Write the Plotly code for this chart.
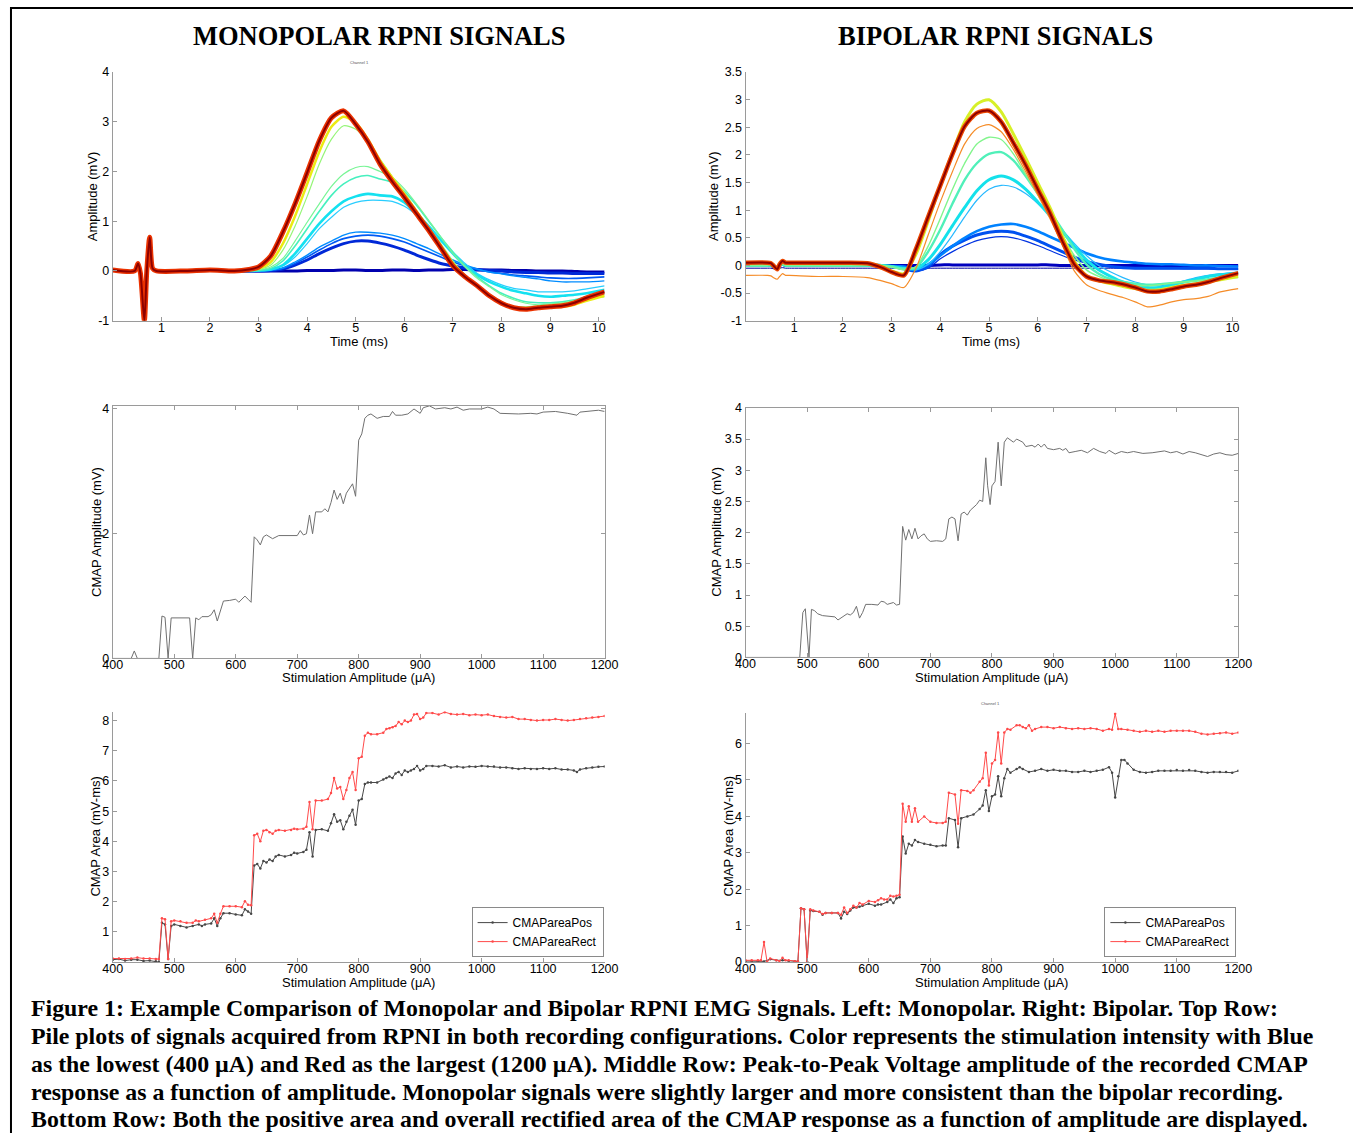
import plotly.graph_objects as go

W, H = 1353, 1133

# ---------------- top row: pile plots (time in ms, amplitude in mV) ----------------
t_prefix = [0, 0.45, 0.52, 0.57, 0.65, 0.70, 0.76, 0.82, 0.9, 1.5, 2.0, 2.5]
t_tail = [2.8, 3.0, 3.25, 3.5, 3.75, 4.0, 4.25, 4.5, 4.75, 5.0, 5.25, 5.5, 5.75, 6.0, 6.25,
          6.5, 6.75, 7.0, 7.25, 7.5, 7.75, 8.0, 8.25, 8.5, 8.75, 9.0, 9.25, 9.5, 9.75, 10.12]

mono_artifact = [0.02, 0.0, 0.15, -0.05, -1.0, 0.0, 0.68, 0.05, 0.0, 0.0, 0.02, 0.0]

mono_navy = [0.0, 0.0, 0.0, 0.0, 0.0, 0.01, 0.01, 0.01, 0.02, 0.02, 0.01, 0.01, 0.02, 0.02, 0.01,
             0.02, 0.02, 0.03, 0.03, 0.02, 0.02, 0.02, 0.01, 0.01, 0.0, 0.0, 0.0, -0.01, -0.02, -0.02]
mono_blue_dark = [0.0, 0.0, 0.01, 0.04, 0.12, 0.22, 0.35, 0.46, 0.55, 0.6, 0.6, 0.56, 0.5, 0.42, 0.32,
                  0.23, 0.15, 0.1, 0.06, 0.03, 0.01, 0.0, -0.02, -0.03, -0.03, -0.04, -0.04, -0.05, -0.05, -0.05]
mono_blue_mid = [0.0, 0.0, 0.01, 0.05, 0.15, 0.28, 0.42, 0.55, 0.65, 0.7, 0.72, 0.7, 0.65, 0.58, 0.48,
                 0.38, 0.28, 0.18, 0.1, 0.03, -0.02, -0.05, -0.08, -0.1, -0.12, -0.14, -0.15, -0.15, -0.14, -0.12]
mono_blue_light = [0.0, 0.0, 0.02, 0.06, 0.18, 0.32, 0.48, 0.6, 0.72, 0.78, 0.78, 0.76, 0.72, 0.65, 0.55,
                   0.45, 0.33, 0.22, 0.12, 0.04, -0.02, -0.06, -0.1, -0.13, -0.16, -0.2, -0.22, -0.22, -0.22, -0.2]
mono_cyan_light = [0.0, 0.0, 0.02, 0.1, 0.28, 0.55, 0.85, 1.08, 1.28, 1.38, 1.42, 1.42, 1.4, 1.3, 1.12,
                   0.88, 0.62, 0.38, 0.15, -0.05, -0.18, -0.28, -0.35, -0.38, -0.42, -0.42, -0.42, -0.4, -0.36, -0.3]
mono_cyan = [0.0, 0.01, 0.03, 0.12, 0.35, 0.65, 0.95, 1.2, 1.4, 1.5, 1.55, 1.52, 1.5, 1.38, 1.15,
             0.9, 0.62, 0.35, 0.1, -0.08, -0.22, -0.32, -0.4, -0.45, -0.5, -0.52, -0.5, -0.48, -0.45, -0.38]
mono_green_cyan = [0.0, 0.01, 0.05, 0.2, 0.5, 0.85, 1.2, 1.52, 1.75, 1.88, 1.92, 1.85, 1.78, 1.6, 1.32,
                   1.0, 0.68, 0.38, 0.1, -0.12, -0.3, -0.45, -0.55, -0.62, -0.64, -0.64, -0.62, -0.58, -0.52, -0.45]
mono_green = [0.0, 0.02, 0.08, 0.25, 0.6, 0.98, 1.35, 1.7, 1.95, 2.08, 2.1, 2.0, 1.88, 1.65, 1.35,
              1.02, 0.68, 0.35, 0.08, -0.15, -0.32, -0.48, -0.58, -0.65, -0.68, -0.66, -0.64, -0.6, -0.55, -0.48]
mono_light_green = [0.01, 0.03, 0.12, 0.42, 0.9, 1.5, 2.15, 2.65, 2.92, 2.85, 2.6, 2.25, 1.9, 1.58, 1.22,
                    0.88, 0.55, 0.2, -0.08, -0.3, -0.5, -0.65, -0.72, -0.72, -0.7, -0.68, -0.65, -0.6, -0.55, -0.52]
mono_yellow = [0.02, 0.05, 0.18, 0.55, 1.1, 1.75, 2.4, 2.9, 3.1, 2.98, 2.65, 2.22, 1.88, 1.55, 1.2,
               0.85, 0.5, 0.15, -0.1, -0.3, -0.48, -0.63, -0.73, -0.76, -0.75, -0.73, -0.72, -0.68, -0.6, -0.5]
mono_red = [0.03, 0.08, 0.3, 0.78, 1.35, 1.98, 2.62, 3.08, 3.22, 2.95, 2.6, 2.15, 1.8, 1.48, 1.15,
            0.82, 0.46, 0.1, -0.12, -0.3, -0.5, -0.65, -0.74, -0.77, -0.74, -0.72, -0.7, -0.64, -0.54, -0.42]

bip_artifact_hi = [0.05, 0.05, 0.04, 0.0, -0.07, 0.02, 0.08, 0.05, 0.05, 0.05, 0.05, 0.04]
bip_artifact_lo = [0.0, 0.0, 0.0, -0.01, -0.04, 0.0, 0.02, 0.0, 0.0, 0.0, 0.0, 0.0]
bip_artifact_neg = [-0.05, -0.05, -0.05, -0.06, -0.08, -0.05, -0.04, -0.05, -0.05, -0.05, -0.05, -0.05]
bip_artifact_orange = [-0.18, -0.18, -0.19, -0.22, -0.25, -0.2, -0.15, -0.18, -0.18, -0.2, -0.2, -0.22]

bip_navy_low = [-0.05, -0.05, -0.05, -0.05, -0.05, -0.05, -0.05, -0.05, -0.05, -0.05, -0.05, -0.05, -0.05, -0.05, -0.05,
                -0.05, -0.05, -0.05, -0.05, -0.05, -0.05, -0.05, -0.05, -0.05, -0.05, -0.06, -0.06, -0.06, -0.07, -0.07]
bip_navy = [0.0, 0.0, 0.0, 0.0, 0.0, 0.01, 0.01, 0.01, 0.01, 0.01, 0.01, 0.01, 0.01, 0.01, 0.01,
            0.0, 0.0, 0.0, 0.0, 0.0, 0.0, 0.0, 0.0, 0.0, 0.0, 0.0, 0.0, 0.0, 0.0, 0.0]
bip_blue_dark = [0.0, -0.03, -0.07, -0.1, -0.05, 0.12, 0.25, 0.36, 0.45, 0.5, 0.52, 0.5, 0.44, 0.36, 0.27,
                 0.18, 0.1, 0.04, 0.0, -0.03, -0.05, -0.06, -0.06, -0.06, -0.06, -0.06, -0.06, -0.06, -0.06, -0.06]
bip_blue_mid = [0.0, -0.02, -0.06, -0.1, -0.02, 0.2, 0.35, 0.46, 0.55, 0.6, 0.62, 0.6, 0.53, 0.45, 0.35,
                0.25, 0.15, 0.07, 0.02, -0.02, -0.04, -0.05, -0.05, -0.05, -0.05, -0.05, -0.05, -0.05, -0.06, -0.06]
bip_blue = [0.0, -0.01, -0.02, -0.06, 0.02, 0.18, 0.35, 0.5, 0.62, 0.7, 0.74, 0.75, 0.7, 0.62, 0.52,
            0.42, 0.32, 0.22, 0.15, 0.1, 0.07, 0.05, 0.03, 0.02, 0.02, 0.01, 0.0, 0.0, -0.01, -0.02]
bip_cyan_light = [0.0, -0.02, -0.05, -0.08, 0.02, 0.25, 0.55, 0.88, 1.18, 1.38, 1.45, 1.42, 1.3, 1.12, 0.9,
                  0.65, 0.4, 0.18, 0.0, -0.12, -0.22, -0.3, -0.35, -0.37, -0.33, -0.28, -0.22, -0.18, -0.15, -0.12]
bip_cyan = [0.0, -0.02, -0.05, -0.06, 0.1, 0.38, 0.72, 1.05, 1.35, 1.55, 1.62, 1.55, 1.38, 1.15, 0.9,
            0.62, 0.35, 0.1, -0.08, -0.2, -0.3, -0.36, -0.4, -0.4, -0.36, -0.3, -0.25, -0.2, -0.17, -0.14]
bip_green2 = [0.0, -0.02, -0.06, -0.04, 0.25, 0.65, 1.12, 1.55, 1.85, 2.02, 2.05, 1.9, 1.62, 1.3, 0.98,
              0.65, 0.3, 0.02, -0.15, -0.25, -0.3, -0.33, -0.35, -0.34, -0.32, -0.3, -0.28, -0.25, -0.22, -0.2]
bip_green = [0.0, -0.03, -0.08, -0.02, 0.35, 0.85, 1.38, 1.85, 2.2, 2.32, 2.28, 2.02, 1.65, 1.28, 0.92,
             0.55, 0.18, -0.08, -0.2, -0.28, -0.33, -0.36, -0.37, -0.35, -0.32, -0.3, -0.28, -0.26, -0.24, -0.22]
bip_orange = [-0.28, -0.33, -0.4, -0.05, 0.55, 1.15, 1.7, 2.2, 2.48, 2.55, 2.42, 2.1, 1.7, 1.28, 0.85,
              0.38, -0.1, -0.35, -0.45, -0.52, -0.58, -0.66, -0.75, -0.72, -0.66, -0.62, -0.6, -0.56, -0.48, -0.42]
bip_yellow = [-0.02, -0.1, -0.15, 0.2, 0.8, 1.45, 2.05, 2.6, 2.92, 3.0, 2.78, 2.38, 1.95, 1.5, 1.05,
              0.55, 0.08, -0.18, -0.28, -0.33, -0.38, -0.42, -0.45, -0.44, -0.4, -0.36, -0.33, -0.3, -0.26, -0.2]
bip_red = [-0.04, -0.12, -0.18, 0.3, 0.88, 1.45, 2.02, 2.52, 2.76, 2.8, 2.6, 2.22, 1.82, 1.38, 0.95,
           0.45, 0.02, -0.2, -0.27, -0.3, -0.34, -0.4, -0.47, -0.47, -0.43, -0.38, -0.35, -0.3, -0.23, -0.14]

# ---------------- middle row: CMAP peak-to-peak amplitude (stim uA, mV) ----------------
mono_amp = [(400, 0), (430, 0), (435, 0.12), (440, 0), (475, 0), (480, 0.68), (485, 0.66), (490, 0),
            (495, 0.65), (500, 0.65), (510, 0.65), (520, 0.64), (525, 0.65), (530, 0), (535, 0.65),
            (540, 0.62), (545, 0.67), (550, 0.67), (555, 0.67), (560, 0.7), (565, 0.78), (570, 0.6),
            (575, 0.75), (580, 0.92), (590, 0.93), (600, 0.95), (605, 0.9), (610, 0.95), (615, 1.0),
            (620, 0.95), (625, 0.9), (630, 1.95), (635, 1.9), (640, 1.82), (645, 1.95), (650, 1.98),
            (660, 1.92), (670, 1.97), (680, 1.97), (690, 1.97), (700, 1.97), (705, 2.05), (710, 1.98),
            (715, 2.0), (720, 2.3), (725, 2.0), (730, 2.35), (740, 2.35), (745, 2.4), (750, 2.35),
            (755, 2.5), (760, 2.7), (765, 2.55), (770, 2.65), (775, 2.48), (780, 2.65), (785, 2.72),
            (790, 2.8), (795, 2.6), (800, 3.5), (805, 3.6), (810, 3.85), (815, 3.9), (820, 3.92),
            (830, 3.85), (840, 3.88), (850, 3.88), (855, 3.96), (860, 3.9), (870, 3.9), (880, 3.92),
            (890, 4.0), (900, 3.93), (905, 4.02), (915, 4.05), (925, 4.0), (940, 4.02), (950, 4.0),
            (960, 4.03), (970, 3.98), (980, 4.0), (1000, 4.0), (1010, 4.03), (1020, 4.0), (1030, 3.93),
            (1050, 3.92), (1060, 3.92), (1080, 3.93), (1090, 3.92), (1100, 3.95), (1110, 3.95),
            (1120, 3.96), (1140, 3.93), (1155, 3.9), (1160, 3.95), (1180, 3.97), (1190, 3.98), (1200, 3.96)]

bip_amp = [(400, 0), (488, 0), (493, 0.72), (497, 0.78), (503, 0), (507, 0.77), (512, 0.75), (517, 0.7),
           (525, 0.67), (535, 0.66), (545, 0.65), (550, 0.6), (560, 0.66), (565, 0.7), (570, 0.68),
           (575, 0.72), (580, 0.82), (585, 0.63), (590, 0.72), (595, 0.85), (605, 0.85), (615, 0.84),
           (620, 0.9), (625, 0.89), (630, 0.85), (635, 0.86), (640, 0.88), (645, 0.84), (650, 0.85),
           (655, 2.1), (660, 1.88), (665, 2.05), (670, 1.9), (675, 2.07), (680, 1.9), (685, 1.95),
           (690, 1.98), (695, 1.9), (700, 1.86), (710, 1.87), (720, 1.86), (725, 1.9), (730, 2.22),
           (735, 2.25), (740, 2.22), (745, 1.87), (750, 2.3), (755, 2.33), (760, 2.28), (765, 2.36),
           (770, 2.4), (775, 2.45), (780, 2.52), (785, 2.5), (790, 3.2), (793, 2.75), (797, 2.45),
           (800, 2.75), (805, 2.82), (810, 3.45), (815, 2.75), (820, 3.45), (825, 3.52), (830, 3.48),
           (835, 3.45), (840, 3.5), (850, 3.45), (855, 3.38), (865, 3.4), (870, 3.37), (875, 3.42),
           (880, 3.37), (885, 3.42), (890, 3.35), (900, 3.33), (910, 3.35), (915, 3.32), (920, 3.35),
           (925, 3.28), (935, 3.3), (945, 3.32), (955, 3.28), (960, 3.32), (965, 3.35), (975, 3.3),
           (985, 3.27), (990, 3.32), (1000, 3.26), (1010, 3.3), (1020, 3.28), (1030, 3.3), (1045, 3.27),
           (1060, 3.28), (1070, 3.3), (1080, 3.31), (1090, 3.28), (1100, 3.3), (1110, 3.26), (1120, 3.3),
           (1130, 3.28), (1140, 3.25), (1150, 3.22), (1160, 3.26), (1170, 3.28), (1180, 3.25),
           (1190, 3.24), (1200, 3.27)]

# ---------------- bottom row: CMAP area (stim uA, mV-ms) ----------------
mono_area_pos = [(400, 0.08), (410, 0.1), (420, 0.05), (430, 0.08), (440, 0.08), (450, 0.04), (460, 0.05),
                 (470, 0.03), (475, 0.0), (480, 1.3), (485, 1.25), (490, 0.1), (495, 1.2), (500, 1.25),
                 (510, 1.2), (520, 1.15), (530, 1.2), (540, 1.25), (545, 1.2), (550, 1.25), (560, 1.28),
                 (565, 1.45), (570, 1.2), (575, 1.45), (580, 1.62), (590, 1.62), (600, 1.58), (610, 1.55),
                 (615, 1.75), (620, 1.68), (625, 1.6), (630, 3.2), (635, 3.25), (640, 3.1), (645, 3.35),
                 (650, 3.3), (655, 3.4), (660, 3.35), (665, 3.5), (670, 3.55), (680, 3.5), (690, 3.55),
                 (695, 3.62), (700, 3.6), (710, 3.65), (715, 3.72), (720, 4.3), (725, 3.5), (730, 4.38),
                 (740, 4.4), (750, 4.35), (755, 4.6), (760, 4.9), (765, 4.65), (770, 4.7), (775, 4.4),
                 (780, 4.65), (785, 4.85), (790, 5.05), (795, 4.55), (800, 5.35), (805, 5.4), (810, 5.9),
                 (815, 5.95), (820, 5.95), (830, 5.95), (840, 6.05), (845, 6.1), (850, 6.15), (855, 6.1),
                 (860, 6.25), (865, 6.3), (870, 6.2), (875, 6.35), (880, 6.3), (885, 6.35), (890, 6.4),
                 (895, 6.5), (900, 6.35), (905, 6.4), (910, 6.5), (920, 6.5), (930, 6.48), (940, 6.52),
                 (950, 6.45), (960, 6.48), (970, 6.45), (980, 6.48), (990, 6.47), (1000, 6.5), (1010, 6.48),
                 (1020, 6.48), (1030, 6.45), (1040, 6.45), (1050, 6.42), (1060, 6.4), (1070, 6.42),
                 (1080, 6.4), (1090, 6.4), (1100, 6.42), (1110, 6.4), (1120, 6.42), (1130, 6.38),
                 (1140, 6.38), (1150, 6.35), (1155, 6.3), (1160, 6.38), (1170, 6.42), (1180, 6.45),
                 (1190, 6.47), (1200, 6.48)]
mono_area_rect = [(400, 0.12), (410, 0.12), (420, 0.1), (430, 0.12), (440, 0.15), (450, 0.12), (460, 0.12),
                  (470, 0.1), (475, 0.1), (480, 1.45), (485, 1.42), (490, 0.1), (495, 1.35), (500, 1.38),
                  (510, 1.35), (520, 1.3), (530, 1.3), (535, 1.38), (540, 1.35), (550, 1.4), (560, 1.45),
                  (565, 1.6), (570, 1.3), (575, 1.6), (580, 1.85), (590, 1.85), (600, 1.85), (610, 1.82),
                  (615, 2.02), (620, 1.9), (625, 1.88), (630, 4.2), (635, 4.25), (640, 4.0), (645, 4.35),
                  (650, 4.38), (655, 4.3), (660, 4.25), (665, 4.35), (670, 4.38), (680, 4.35), (690, 4.38),
                  (695, 4.42), (700, 4.4), (710, 4.42), (715, 4.48), (720, 5.3), (725, 4.4), (730, 5.35),
                  (740, 5.35), (750, 5.4), (755, 5.6), (760, 6.1), (765, 5.75), (770, 5.8), (775, 5.4),
                  (780, 5.7), (785, 6.1), (790, 6.3), (795, 5.7), (800, 6.75), (805, 6.8), (810, 7.5),
                  (815, 7.6), (820, 7.55), (830, 7.55), (840, 7.6), (845, 7.72), (850, 7.75), (855, 7.78),
                  (860, 7.82), (865, 7.95), (870, 7.88), (875, 8.0), (880, 7.95), (885, 8.0), (890, 8.2),
                  (895, 8.22), (900, 8.05), (905, 8.1), (910, 8.25), (920, 8.25), (930, 8.2), (940, 8.28),
                  (950, 8.22), (960, 8.2), (970, 8.22), (980, 8.18), (990, 8.2), (1000, 8.18), (1010, 8.2),
                  (1020, 8.15), (1030, 8.12), (1040, 8.1), (1050, 8.12), (1060, 8.05), (1070, 8.05),
                  (1080, 8.02), (1090, 8.0), (1100, 8.02), (1110, 8.02), (1120, 8.05), (1130, 8.02),
                  (1140, 8.0), (1150, 8.02), (1160, 8.05), (1170, 8.08), (1180, 8.1), (1190, 8.12), (1200, 8.15)]

bip_area_pos = [(400, 0.03), (410, 0.03), (420, 0.02), (430, 0.02), (440, 0.08), (450, 0.05), (460, 0.05),
                (470, 0.03), (480, 0.02), (485, 0.02), (490, 1.48), (495, 1.45), (500, 0.0), (505, 1.42),
                (510, 1.4), (520, 1.38), (525, 1.3), (530, 1.35), (540, 1.35), (550, 1.35), (555, 1.2),
                (560, 1.38), (565, 1.32), (570, 1.42), (575, 1.5), (580, 1.5), (585, 1.52), (590, 1.55),
                (600, 1.6), (610, 1.55), (615, 1.58), (620, 1.58), (630, 1.65), (635, 1.72), (640, 1.62),
                (645, 1.75), (650, 1.78), (655, 3.45), (660, 2.98), (665, 3.25), (670, 3.2), (675, 3.35),
                (680, 3.3), (690, 3.25), (700, 3.22), (710, 3.18), (720, 3.2), (725, 3.2), (730, 3.95),
                (740, 3.9), (745, 3.15), (750, 3.95), (760, 4.0), (770, 4.05), (780, 4.2), (785, 4.3),
                (790, 4.72), (795, 4.15), (800, 4.55), (805, 4.6), (810, 5.1), (815, 4.55), (820, 5.05),
                (825, 5.3), (830, 5.2), (840, 5.3), (845, 5.35), (850, 5.3), (860, 5.22), (870, 5.25),
                (880, 5.3), (890, 5.25), (900, 5.28), (910, 5.25), (920, 5.25), (930, 5.22), (940, 5.22),
                (950, 5.25), (960, 5.22), (970, 5.25), (980, 5.28), (990, 5.35), (995, 5.2), (1000, 4.52),
                (1005, 5.1), (1010, 5.55), (1015, 5.55), (1020, 5.45), (1030, 5.28), (1040, 5.22),
                (1050, 5.2), (1060, 5.22), (1070, 5.25), (1080, 5.25), (1090, 5.25), (1100, 5.27),
                (1110, 5.25), (1120, 5.27), (1130, 5.25), (1140, 5.22), (1150, 5.2), (1160, 5.22),
                (1170, 5.22), (1180, 5.22), (1190, 5.2), (1200, 5.25)]
bip_area_rect = [(400, 0.05), (410, 0.05), (420, 0.05), (425, 0.05), (430, 0.55), (435, 0.0), (440, 0.1),
                 (450, 0.05), (455, 0.03), (460, 0.12), (465, 0.05), (470, 0.05), (480, 0.02), (485, 0.02),
                 (490, 1.48), (495, 1.45), (500, 0.0), (505, 1.45), (510, 1.42), (520, 1.38), (525, 1.32),
                 (530, 1.35), (540, 1.35), (550, 1.35), (555, 1.3), (560, 1.5), (565, 1.35), (570, 1.45),
                 (575, 1.55), (580, 1.5), (585, 1.62), (590, 1.58), (600, 1.68), (610, 1.65), (615, 1.7),
                 (620, 1.75), (625, 1.72), (630, 1.72), (635, 1.82), (640, 1.8), (645, 1.82), (650, 1.85),
                 (655, 4.35), (660, 3.85), (665, 4.28), (670, 3.85), (675, 4.22), (680, 3.85), (690, 4.0),
                 (700, 3.85), (710, 3.82), (720, 3.82), (725, 3.85), (730, 4.65), (740, 4.6), (745, 3.8),
                 (750, 4.72), (760, 4.7), (765, 4.65), (770, 4.72), (780, 4.95), (785, 5.05), (790, 5.75),
                 (795, 4.85), (800, 5.45), (805, 5.55), (810, 6.3), (815, 5.45), (820, 6.3), (825, 6.4),
                 (830, 6.38), (840, 6.5), (845, 6.5), (850, 6.45), (855, 6.42), (860, 6.5), (865, 6.35),
                 (870, 6.4), (880, 6.45), (890, 6.45), (900, 6.42), (910, 6.45), (920, 6.42), (930, 6.4),
                 (940, 6.42), (950, 6.4), (960, 6.42), (970, 6.4), (980, 6.35), (990, 6.4), (995, 6.38),
                 (1000, 6.82), (1005, 6.4), (1010, 6.4), (1020, 6.38), (1030, 6.35), (1040, 6.32),
                 (1050, 6.35), (1060, 6.32), (1070, 6.35), (1080, 6.32), (1090, 6.35), (1100, 6.35),
                 (1110, 6.35), (1120, 6.35), (1130, 6.32), (1140, 6.27), (1150, 6.25), (1160, 6.27),
                 (1170, 6.28), (1180, 6.3), (1190, 6.27), (1200, 6.3)]

x_ticks_time = [1, 2, 3, 4, 5, 6, 7, 8, 9, 10]
x_ticks_stim = [400, 500, 600, 700, 800, 900, 1000, 1100, 1200]

caption_lines = [
    "Figure 1: Example Comparison of Monopolar and Bipolar RPNI EMG Signals. Left: Monopolar. Right: Bipolar. Top Row:",
    "Pile plots of signals acquired from RPNI in both recording configurations. Color represents the stimulation intensity with Blue",
    "as the lowest (400 \u00b5A) and Red as the largest (1200 \u00b5A). Middle Row: Peak-to-Peak Voltage amplitude of the recorded CMAP",
    "response as a function of amplitude. Monopolar signals were slightly larger and more consistent than the bipolar recording.",
    "Bottom Row: Both the positive area and overall rectified area of the CMAP response as a function of amplitude are displayed.",
]

# ---------------- figure ----------------
# the photographed page shows the figure slightly shrunk and offset; place items so they land
# at the reference pixel positions
SX, OX, SY, OY = 0.9826, 9.2, 0.9854, 7.05


def px_x(p):
    return (p - OX) / SX / W


def px_y(p):
    return 1 - (p - OY) / SY / H


fig = go.Figure()
t_all = t_prefix + t_tail

mono_traces = [
    (mono_artifact, mono_navy, "rgb(0,0,175)", 3.0),
    (mono_artifact, mono_blue_dark, "rgb(0,40,215)", 3.0),
    (mono_artifact, mono_blue_mid, "rgb(0,90,245)", 1.6),
    (mono_artifact, mono_blue_light, "rgb(0,140,255)", 1.4),
    (mono_artifact, mono_cyan_light, "rgb(40,205,255)", 1.2),
    (mono_artifact, mono_cyan, "rgb(20,225,240)", 2.6),
    (mono_artifact, mono_green_cyan, "rgb(70,240,190)", 1.6),
    (mono_artifact, mono_green, "rgb(120,245,150)", 1.2),
    (mono_artifact, mono_light_green, "rgb(150,245,120)", 1.2),
    (mono_artifact, mono_yellow, "rgb(235,235,20)", 2.5),
    (mono_artifact, mono_red, "rgb(235,50,0)", 5.0),
    (mono_artifact, mono_red, "rgb(140,0,0)", 2.0),
]
for pre, tail, col, w in mono_traces:
    fig.add_trace(go.Scatter(x=t_all, y=pre + tail, mode="lines", xaxis="x", yaxis="y",
                             line=dict(color=col, width=w, shape="spline", smoothing=0.7),
                             showlegend=False, hoverinfo="skip"))

bip_traces = [
    (bip_artifact_neg, bip_navy_low, "rgb(0,0,160)", 1.0),
    (bip_artifact_lo, bip_navy, "rgb(0,0,190)", 3.0),
    (bip_artifact_lo, bip_blue_dark, "rgb(0,50,225)", 1.2),
    (bip_artifact_lo, bip_blue_mid, "rgb(0,80,240)", 3.0),
    (bip_artifact_lo, bip_blue, "rgb(0,130,255)", 2.6),
    (bip_artifact_lo, bip_cyan_light, "rgb(40,185,255)", 1.2),
    (bip_artifact_lo, bip_cyan, "rgb(20,225,235)", 3.0),
    (bip_artifact_lo, bip_green2, "rgb(80,240,185)", 2.4),
    (bip_artifact_lo, bip_green, "rgb(130,245,140)", 1.4),
    (bip_artifact_orange, bip_orange, "rgb(245,140,40)", 1.2),
    (bip_artifact_hi, bip_yellow, "rgb(215,240,40)", 3.0),
    (bip_artifact_hi, bip_red, "rgb(235,70,0)", 4.5),
    (bip_artifact_hi, bip_red, "rgb(140,0,0)", 2.0),
]
for pre, tail, col, w in bip_traces:
    fig.add_trace(go.Scatter(x=t_all, y=pre + tail, mode="lines", xaxis="x2", yaxis="y2",
                             line=dict(color=col, width=w, shape="spline", smoothing=0.7),
                             showlegend=False, hoverinfo="skip"))

for data, ax in [(mono_amp, "3"), (bip_amp, "4")]:
    fig.add_trace(go.Scatter(x=[p[0] for p in data], y=[p[1] for p in data], mode="lines",
                             xaxis="x" + ax, yaxis="y" + ax, line=dict(color="#707070", width=1),
                             showlegend=False, hoverinfo="skip"))

for pos, rect, ax, lg in [(mono_area_pos, mono_area_rect, "5", "legend"),
                          (bip_area_pos, bip_area_rect, "6", "legend2")]:
    fig.add_trace(go.Scatter(x=[p[0] for p in pos], y=[p[1] for p in pos], mode="lines+markers",
                             name="CMAPareaPos", xaxis="x" + ax, yaxis="y" + ax, legend=lg,
                             line=dict(color="#474747", width=1), marker=dict(size=2.5, color="#474747")))
    fig.add_trace(go.Scatter(x=[p[0] for p in rect], y=[p[1] for p in rect], mode="lines+markers",
                             name="CMAPareaRect", xaxis="x" + ax, yaxis="y" + ax, legend=lg,
                             line=dict(color="#ff4a4a", width=1), marker=dict(size=2.5, color="#ff4a4a")))

axcol = "#9a9a9a"
tfont = dict(family="Liberation Sans, Arial, sans-serif", size=12.5, color="black")


def axis(domain, rng, tickvals, anchor, mirror=False, ticktext=None, standoff=0):
    d = dict(domain=domain, range=rng, tickvals=tickvals, anchor=anchor, showline=True,
             linecolor=axcol, linewidth=1, ticks="inside", ticklen=4, tickcolor=axcol,
             showgrid=False, zeroline=False, tickfont=tfont, mirror=mirror, ticklabelstandoff=standoff)
    if ticktext is not None:
        d["ticktext"] = ticktext
    return d


xl = [px_x(112), px_x(604)]
xr = [px_x(745), px_x(1238)]
y_top = [px_y(320), px_y(72)]
y_mid_l = [px_y(657), px_y(405)]
y_mid_r = [px_y(656), px_y(407)]
y_bot_l = [px_y(960), px_y(710)]
y_bot_r = [px_y(960), px_y(711)]

top_r_ticks = [-1, -0.5, 0, 0.5, 1, 1.5, 2, 2.5, 3, 3.5]
top_r_text = ["-1", "-0.5", "0", "0.5", "1", "1.5", "2", "2.5", "3", "3.5"]

leg_font = dict(family="Liberation Sans, Arial, sans-serif", size=12, color="black")
xs = -5
layout = dict(
    width=W, height=H, margin=dict(l=0, r=0, t=0, b=0),
    paper_bgcolor="white", plot_bgcolor="white",
    xaxis=axis(xl, [0, 10.12], x_ticks_time, "y", standoff=xs),
    yaxis=axis(y_top, [-1, 4], [-1, 0, 1, 2, 3, 4], "x", ticktext=["-1", "0", "1", "2", "3", "4"]),
    xaxis2=axis(xr, [0, 10.12], x_ticks_time, "y2", standoff=xs),
    yaxis2=axis(y_top, [-1, 3.5], top_r_ticks, "x2", ticktext=top_r_text),
    xaxis3=axis(xl, [400, 1200], x_ticks_stim, "y3", mirror="ticks", standoff=xs),
    yaxis3=axis(y_mid_l, [0, 4.05], [0, 2, 4], "x3", mirror="ticks"),
    xaxis4=axis(xr, [400, 1200], x_ticks_stim, "y4", mirror="ticks", standoff=xs),
    yaxis4=axis(y_mid_r, [0, 4], [0, 0.5, 1, 1.5, 2, 2.5, 3, 3.5, 4], "x4", mirror="ticks"),
    xaxis5=axis(xl, [400, 1200], x_ticks_stim, "y5", standoff=xs),
    yaxis5=axis(y_bot_l, [0, 8.3], [1, 2, 3, 4, 5, 6, 7, 8], "x5"),
    xaxis6=axis(xr, [400, 1200], x_ticks_stim, "y6", standoff=xs),
    yaxis6=axis(y_bot_r, [0, 6.85], [0, 1, 2, 3, 4, 5, 6], "x6"),
    legend=dict(x=px_x(603), y=px_y(955), xanchor="right", yanchor="bottom",
                bgcolor="white", bordercolor="#8a8a8a", borderwidth=1, font=leg_font,
                itemwidth=30, tracegroupgap=0),
    legend2=dict(x=px_x(1236), y=px_y(955), xanchor="right", yanchor="bottom",
                 bgcolor="white", bordercolor="#8a8a8a", borderwidth=1, font=leg_font,
                 itemwidth=30, tracegroupgap=0),
)
fig.update_layout(**layout)

ann = []
title_font = dict(family="Liberation Serif, Times New Roman, serif", size=26.5, color="black")
ann.append(dict(text="<b>MONOPOLAR RPNI SIGNALS</b>", x=px_x(379), y=px_y(36), font=title_font))
ann.append(dict(text="<b>BIPOLAR RPNI SIGNALS</b>", x=px_x(995), y=px_y(36), font=title_font))

lab_font = dict(family="Liberation Sans, Arial, sans-serif", size=13, color="black")
axis_titles = [
    ("Amplitude (mV)", 92, 196, -90), ("Time (ms)", 358, 341, 0),
    ("Amplitude (mV)", 713, 196, -90), ("Time (ms)", 991, 341, 0),
    ("CMAP Amplitude (mV)", 95, 531, -90), ("Stimulation Amplitude (\u03bcA)", 358, 676, 0),
    ("CMAP Amplitude (mV)", 716, 531, -90), ("Stimulation Amplitude (\u03bcA)", 991, 676, 0),
    ("CMAP Area (mV-ms)", 95, 835, -90), ("Stimulation Amplitude (\u03bcA)", 358, 980, 0),
    ("CMAP Area (mV-ms)", 728, 835, -90), ("Stimulation Amplitude (\u03bcA)", 991, 980, 0),
]
for txt, x, y, rot in axis_titles:
    ann.append(dict(text=txt, x=px_x(x), y=px_y(y), textangle=rot, font=lab_font))

tiny = dict(family="Liberation Sans, Arial, sans-serif", size=4, color="#555")
ann.append(dict(text="Channel 1", x=px_x(359), y=px_y(62), font=tiny))
ann.append(dict(text="Channel 1", x=px_x(990), y=px_y(702), font=tiny))

cap_font = dict(family="Liberation Serif, Times New Roman, serif", size=23.85, color="black")
cap_y = [1006, 1034, 1062, 1089.5, 1116.5]
for line, yy in zip(caption_lines, cap_y):
    ann.append(dict(text="<b>" + line + "</b>", x=px_x(28), y=px_y(yy),
                    xanchor="left", font=cap_font))

for a in ann:
    a.setdefault("xanchor", "center")
    a.update(xref="paper", yref="paper", yanchor="middle", showarrow=False)
fig.update_layout(annotations=ann)

fig.add_shape(type="rect", xref="paper", yref="paper", x0=1 / W, x1=1.02, y0=-0.02, y1=1 - 1 / H,
              line=dict(color="black", width=2), fillcolor="rgba(0,0,0,0)")

pin_js = ("var d=document.getElementById('{plot_id}');"
          "document.documentElement.style.margin='0';document.body.style.margin='0';"
          "document.body.style.overflow='hidden';document.documentElement.style.overflow='hidden';"
          "d.style.position='fixed';d.style.left='0px';d.style.top='0px';")
fig.write_html("out.html", post_script=pin_js, config={"displayModeBar": False})
